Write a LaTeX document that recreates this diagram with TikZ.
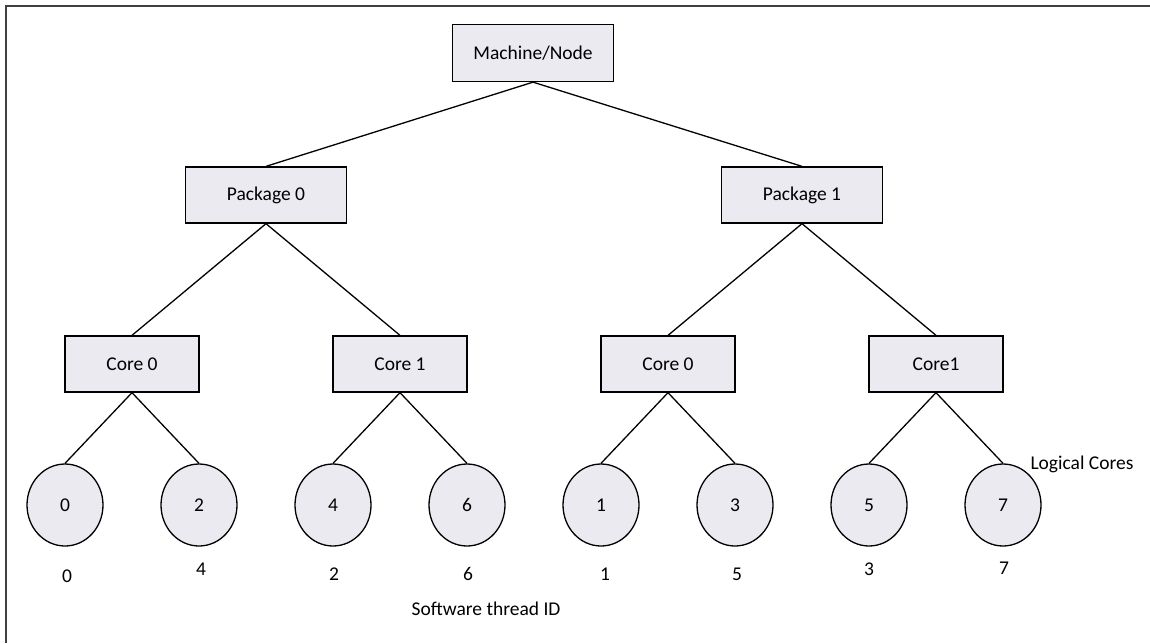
\documentclass[tikz,border=0pt]{standalone}
\usepackage{fontspec}
\setmainfont{Carlito}
\usetikzlibrary{shapes.geometric}
\definecolor{boxfill}{RGB}{236,234,241}
\definecolor{framegray}{RGB}{64,64,64}
\begin{document}
\begin{tikzpicture}[x=1pt,y=-1pt,
  every node/.style={font=\fontsize{19.5}{23}\selectfont},
  wide/.style={draw=black, line width=1.3pt, fill=boxfill, rectangle, inner sep=0pt, minimum width=161pt, minimum height=57pt},
  corebox/.style={draw=black, line width=1.3pt, fill=boxfill, rectangle, inner sep=0pt, minimum width=134pt, minimum height=56pt},
  lcore/.style={draw=black, line width=1.3pt, fill=boxfill, ellipse, inner sep=0pt, minimum width=76pt, minimum height=82pt},
  link/.style={draw=black, line width=1.3pt},
  plain/.style={inner sep=0pt}]
\useasboundingbox (0,0) rectangle (1150,643);
\draw[framegray, line width=2pt, line join=miter] (6,643) -- (6,6) -- (1150,6);

\node[wide] (m) at (533,53) {Machine/Node};
\node[wide, minimum height=56pt] (p0) at (266,195) {Package 0};
\node[wide, minimum height=56pt] (p1) at (802,195) {Package 1};

\node[corebox] (c00) at (132,364) {Core 0};
\node[corebox] (c01) at (400,364) {Core 1};
\node[corebox] (c10) at (668,364) {Core 0};
\node[corebox] (c11) at (936,364) {Core1};

\node[lcore] (l0) at (65,505) {0};
\node[lcore] (l2) at (199,505) {2};
\node[lcore] (l4) at (333,505) {4};
\node[lcore] (l6) at (467,505) {6};
\node[lcore] (l1) at (601,505) {1};
\node[lcore] (l3) at (735,505) {3};
\node[lcore] (l5) at (869,505) {5};
\node[lcore] (l7) at (1003,505) {7};

\draw[link] (m.south) -- (p0.north);
\draw[link] (m.south) -- (p1.north);
\draw[link] (p0.south) -- (c00.north);
\draw[link] (p0.south) -- (c01.north);
\draw[link] (p1.south) -- (c10.north);
\draw[link] (p1.south) -- (c11.north);
\draw[link] (c00.south) -- (l0.north);
\draw[link] (c00.south) -- (l2.north);
\draw[link] (c01.south) -- (l4.north);
\draw[link] (c01.south) -- (l6.north);
\draw[link] (c10.south) -- (l1.north);
\draw[link] (c10.south) -- (l3.north);
\draw[link] (c11.south) -- (l5.north);
\draw[link] (c11.south) -- (l7.north);

\node[plain] (t0) at (67,576) {0};
\node[plain] (t4) at (201,569) {4};
\node[plain] (t2) at (334,574) {2};
\node[plain] (t6) at (468,574) {6};
\node[plain] (t1) at (605,574) {1};
\node[plain] (t5) at (737,574) {5};
\node[plain] (t3) at (869,569) {3};
\node[plain] (t7) at (1004,568) {7};

\node[plain] (sw) at (486,609) {Software thread ID};
\node[plain] (lc) at (1082,464) {Logical Cores};
\end{tikzpicture}
\end{document}
